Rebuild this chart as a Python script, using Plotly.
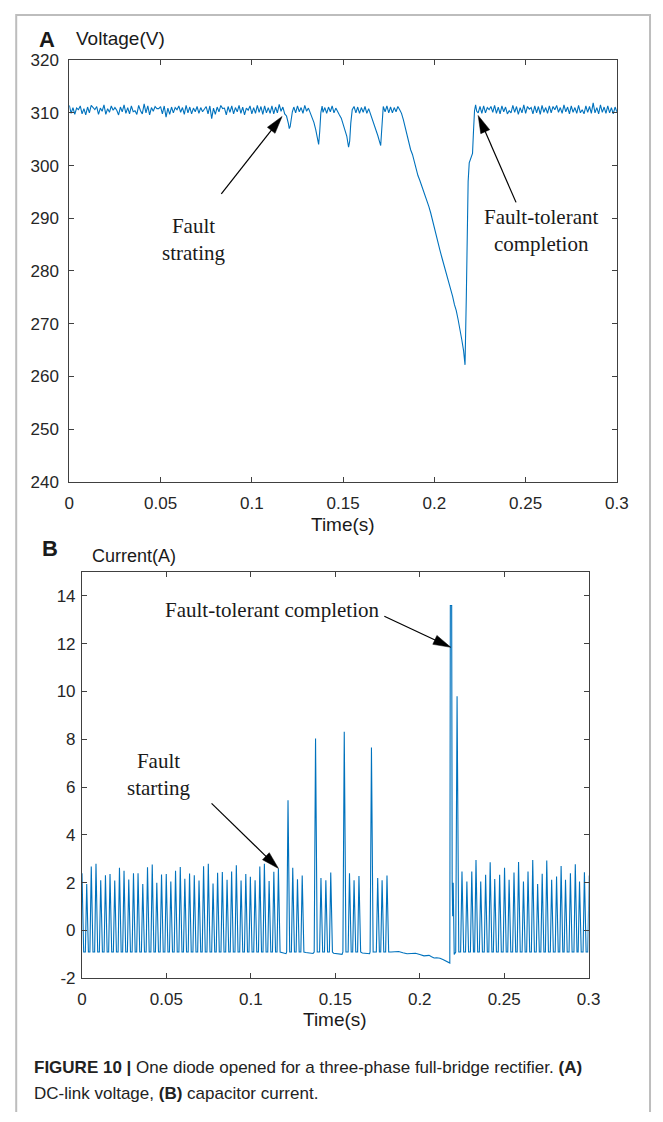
import numpy as np
import plotly.graph_objects as go

W, H = 663, 1122

# ---------------- Panel A : DC-link voltage (V) ----------------
# steady part before the fault, sampled every 1 ms from t = 0.000 s
v_pre = [311.4, 309.9, 311.0, 309.7, 310.9, 310.6, 311.3, 309.8, 310.8, 309.6,
         311.1, 310.0, 311.4, 311.0, 310.6, 311.2, 309.7, 310.9, 310.3, 311.5,
         309.7, 310.8, 310.1, 311.3, 310.5, 311.0, 310.5, 309.6, 311.1, 310.2,
         311.5, 309.9, 311.0, 309.8, 311.3, 310.2, 310.4, 309.7, 311.4, 310.4,
         309.8, 311.7, 310.0, 311.3, 309.6, 311.0, 310.3, 311.2, 310.8, 310.8,
         311.2, 309.8, 311.3, 309.2, 310.9, 309.7, 311.1, 310.0, 311.0, 310.6,
         311.3, 310.1, 311.0, 309.7, 311.4, 310.0, 311.1, 309.8, 310.9, 310.2,
         311.2, 309.9, 311.0, 310.2, 310.7, 311.2, 309.8, 311.3, 308.9, 310.9,
         309.7, 311.1, 310.2, 311.4, 310.8, 310.9, 309.6, 311.2, 310.1, 311.3,
         309.8, 311.0, 310.2, 311.4, 309.9, 311.1, 309.6, 310.9, 310.5, 311.3,
         309.8, 311.0, 309.9, 311.4, 310.1, 311.2, 309.7, 311.3, 310.0, 311.0,
         309.9, 311.3, 309.8, 311.1, 310.0, 311.6, 310.3]
v_pre_start = 0.000

# fault / fault-tolerant transient
v_fault_t = [0.117, 0.118, 0.119, 0.1200, 0.1205, 0.1210, 0.1215, 0.1222, 0.1230, 0.124,
             0.125, 0.126, 0.127, 0.128, 0.129, 0.130, 0.131, 0.132, 0.133, 0.134,
             0.135, 0.1360, 0.1366, 0.1372, 0.1378, 0.1385, 0.139, 0.140, 0.141, 0.142,
             0.143, 0.144, 0.145, 0.146, 0.147, 0.148, 0.149, 0.150, 0.151, 0.152,
             0.1530, 0.1536, 0.1542, 0.1550, 0.156, 0.157, 0.158, 0.159, 0.160, 0.161,
             0.162, 0.163, 0.164, 0.165, 0.166, 0.167, 0.168, 0.169, 0.1700, 0.1706,
             0.1711, 0.1717, 0.172, 0.173, 0.174, 0.175, 0.176, 0.177, 0.178, 0.179,
             0.180, 0.181, 0.182, 0.183, 0.184, 0.185, 0.186, 0.187, 0.188, 0.189,
             0.190, 0.191, 0.192, 0.193, 0.194, 0.195, 0.196, 0.197, 0.198, 0.199,
             0.200, 0.201, 0.202, 0.203, 0.204, 0.205, 0.206, 0.207, 0.208, 0.209,
             0.210, 0.211, 0.212, 0.213, 0.214, 0.215, 0.216, 0.2168, 0.2175, 0.2180,
             0.2185, 0.2191, 0.2200, 0.2209, 0.2215, 0.2220, 0.2226, 0.2232]
v_fault_v = [311.1, 309.8, 309.4, 308.0, 307.0, 307.4, 308.8, 310.2, 311.1, 310.0,
             311.3, 310.2, 311.0, 309.9, 311.4, 310.3, 310.9, 310.0, 309.3, 308.2,
             306.8, 305.0, 304.0, 306.5, 310.0, 311.3, 310.1, 311.0, 309.9, 311.1,
             310.2, 311.3, 310.0, 310.9, 310.1, 309.6, 309.0, 308.0, 306.9, 305.6,
             303.5, 304.6, 308.0, 310.6, 311.2, 310.0, 311.1, 309.9, 311.0, 310.1,
             311.2, 309.9, 310.8, 309.8, 309.0, 308.0, 306.8, 305.7, 304.5, 303.8,
             306.5, 310.2, 311.2, 310.2, 311.3, 310.0, 311.1, 310.0, 311.0, 310.2,
             311.2, 310.6, 309.9, 308.7, 307.2, 305.5, 304.4, 303.0, 302.1, 300.6,
             299.4, 298.1, 297.2, 296.2, 295.4, 294.3, 293.6, 292.2, 291.0, 289.5,
             288.1, 286.5, 285.5, 284.0, 282.7, 281.5, 280.2, 278.9, 277.7, 276.4,
             275.2, 273.6, 272.5, 270.8, 269.1, 267.0, 264.9, 262.2, 275.0, 290.0,
             297.0, 300.5, 301.6, 302.3, 307.0, 310.4, 311.5, 310.3]

# steady part after recovery, sampled every 1 ms from t = 0.224 s
v_post = [310.0, 311.2, 309.9, 311.3, 310.0, 311.0, 310.6, 311.2, 310.1, 311.4,
          309.9, 311.1, 309.8, 311.3, 310.2, 311.1, 309.8, 310.4, 310.0, 311.4,
          310.1, 311.2, 309.7, 311.0, 310.0, 311.5, 309.9, 311.2, 310.7, 311.0,
          309.8, 311.3, 310.0, 311.2, 309.7, 311.4, 310.1, 311.0, 309.9, 311.3,
          310.0, 311.2, 310.6, 311.4, 310.1, 311.0, 309.9, 311.5, 310.2, 311.1,
          309.8, 311.3, 310.1, 311.0, 309.9, 311.4, 310.0, 310.6, 309.8, 311.3,
          310.1, 311.2, 309.9, 311.9, 310.0, 311.0, 309.8, 311.5, 310.1, 311.1,
          309.9, 311.3, 310.0, 311.0, 309.8, 311.1, 310.2]
v_post_start = 0.224
v_step = 0.001

# ---------------- Panel B : capacitor current (A) ----------------
pulse_t = [0.0000, 0.0028, 0.0055, 0.0083, 0.0111, 0.0139, 0.0166, 0.0194, 0.0222, 0.0249,
           0.0277, 0.0305, 0.0332, 0.0360, 0.0388, 0.0416, 0.0443, 0.0471, 0.0499, 0.0526,
           0.0554, 0.0582, 0.0609, 0.0637, 0.0665, 0.0693, 0.0720, 0.0748, 0.0776, 0.0803,
           0.0831, 0.0859, 0.0886, 0.0914, 0.0942, 0.0970, 0.0997, 0.1025, 0.1053, 0.1080,
           0.1108, 0.1136, 0.1163,
           0.1220, 0.1248, 0.1276, 0.1304,
           0.1383, 0.1415, 0.1444, 0.1473,
           0.1553, 0.1584, 0.1611, 0.1640,
           0.1714, 0.1751, 0.1777, 0.1806,
           0.2221,
           0.2250, 0.2279, 0.2308, 0.2333, 0.2361, 0.2390, 0.2417, 0.2444, 0.2473, 0.2502,
           0.2529, 0.2558, 0.2585, 0.2614, 0.2641, 0.2669, 0.2698, 0.2725, 0.2752, 0.2781,
           0.2810, 0.2837, 0.2863, 0.2892, 0.2921, 0.2946, 0.2975, 0.3003]
pulse_v = [2.40, 1.94, 2.68, 2.79, 2.10, 2.31, 2.36, 2.09, 2.62, 2.50,
           2.13, 2.40, 2.40, 1.95, 2.65, 2.76, 2.00, 2.34, 2.36, 2.05,
           2.50, 2.66, 2.17, 2.38, 2.31, 2.09, 2.69, 2.79, 1.97, 2.42,
           2.45, 2.12, 2.47, 2.73, 2.09, 2.36, 2.25, 2.10, 2.68, 2.79,
           2.07, 2.46, 2.58,
           5.45, 2.62, 2.14, 2.30,
           8.03, 2.20, 2.10, 2.43,
           8.32, 2.40, 2.10, 2.28,
           7.66, 2.20, 2.10, 2.30,
           9.80,
           2.47, 2.05, 2.47, 2.95, 2.05, 2.33, 2.86, 2.15, 2.33, 2.63,
           2.12, 2.43, 2.87, 2.05, 2.47, 2.95, 1.95, 2.37, 2.93, 2.12,
           2.26, 2.70, 2.12, 2.40, 2.77, 2.05, 2.44, 2.30]
pulse_base = -0.90

# flat / sagging stretches where pulses are missing, and the 13.6 A spike
gap_t = [0.1185, 0.1198, 0.1208,
         0.1325, 0.1345, 0.1368,
         0.1490, 0.1515, 0.1540,
         0.1660, 0.1685, 0.1703,
         0.1830, 0.1875, 0.1900, 0.1925, 0.1950, 0.1975, 0.2000, 0.2025, 0.2040,
         0.2055, 0.2070, 0.2085, 0.2100, 0.2120, 0.2140, 0.2155, 0.2165, 0.2178,
         0.2181, 0.2189, 0.2192, 0.2195, 0.2198, 0.2204]
gap_v = [-0.92, -0.95, -0.97,
         -0.92, -0.95, -0.96,
         -0.95, -0.98, -1.00,
         -0.94, -0.96, -0.97,
         -0.90, -0.88, -0.93, -0.97, -0.96, -0.95, -1.00, -1.06, -1.05,
         -1.04, -1.10, -1.15, -1.14, -1.16, -1.22, -1.27, -1.30, -1.36,
         13.60, 13.60, 2.00, 0.60, 2.00, -1.00]

x_ticks = [0, 0.05, 0.1, 0.15, 0.2, 0.25, 0.3]
x_ticktext = ["0", "0.05", "0.1", "0.15", "0.2", "0.25", "0.3"]
va_ticks = [240, 250, 260, 270, 280, 290, 300, 310, 320]
ib_ticks = [-2, 0, 2, 4, 6, 8, 10, 12, 14]
ib_ticktext = ["-2", "0", "2", "4", "6", "8", "10", "12", "14"]

# ---------------- build traces ----------------
t_pre = v_pre_start + np.arange(len(v_pre)) * v_step
t_post = v_post_start + np.arange(len(v_post)) * v_step
v_t = np.concatenate([t_pre, np.array(v_fault_t), t_post])
v_v = np.concatenate([np.array(v_pre), np.array(v_fault_v), np.array(v_post)])

RISE, FALL = 0.0008, 0.0010
pts = []
for t, v in zip(pulse_t, pulse_v):
    pts += [(t - RISE, pulse_base), (t, v), (t + FALL, pulse_base)]
pts += list(zip(gap_t, gap_v))
pts.sort(key=lambda p: p[0])
i_t = [p[0] for p in pts]
i_v = [p[1] for p in pts]

BLUE = "#0072BD"
fig = go.Figure()
fig.add_trace(go.Scatter(x=v_t, y=v_v, mode="lines", line=dict(color=BLUE, width=1.1),
                         xaxis="x", yaxis="y", showlegend=False, hoverinfo="skip"))
fig.add_trace(go.Scatter(x=i_t, y=i_v, mode="lines", line=dict(color=BLUE, width=1.1),
                         xaxis="x2", yaxis="y2", showlegend=False, hoverinfo="skip"))

AX = "#404040"
TICKF = dict(family="Liberation Sans, Arial, sans-serif", size=17, color="#262626")


def px(x):
    return x / W


def py(y):
    return 1 - y / H


common = dict(showline=True, linecolor=AX, linewidth=1, mirror="ticks", ticks="inside",
              ticklen=5, tickcolor=AX, tickwidth=1, showgrid=False, zeroline=False,
              tickfont=TICKF)

fig.update_layout(
    width=W, height=H, margin=dict(l=0, r=0, t=0, b=0),
    paper_bgcolor="white", plot_bgcolor="white",
    xaxis=dict(domain=[px(66), px(628)], range=[0, 0.3], anchor="y", tickvals=x_ticks,
               ticktext=x_ticktext, ticklabelstandoff=6, **common),
    yaxis=dict(domain=[py(481), py(52)], range=[240, 320], anchor="x", tickvals=va_ticks,
               ticklabelstandoff=6, **common),
    xaxis2=dict(domain=[px(79), px(599)], range=[0, 0.3], anchor="y2", tickvals=x_ticks,
                ticktext=x_ticktext, ticklabelstandoff=5, **common),
    yaxis2=dict(domain=[py(986), py(572.7)], range=[-2, 15], anchor="x2", tickvals=ib_ticks,
                ticktext=ib_ticktext, ticklabelstandoff=2, **common),
)

SANS = "Liberation Sans, Arial, sans-serif"
SERIF = "Liberation Serif, Times New Roman, serif"
TXT = "#1a1a1a"


def label(text, x, y, size, family=SANS, xanchor="center", align="center", color=TXT):
    fig.add_annotation(text=text, x=px(x), y=py(y), xref="paper", yref="paper",
                       showarrow=False, xanchor=xanchor, yanchor="middle", align=align,
                       font=dict(family=family, size=size, color=color))


# panel labels and axis titles
label("<b>A</b>", 33, 31, 22, xanchor="left")
label("Voltage(V)", 71, 30, 19, xanchor="left")
label("Time(s)", 347, 524, 19)
label("<b>B</b>", 36, 549, 22, xanchor="left")
label("Current(A)", 87, 556, 18, xanchor="left")
label("Time(s)", 339, 1028, 19)

# serif annotations
label("Fault<br>strating", 193, 234, 21, family=SERIF)
label("Fault-tolerant<br>completion", 550, 225, 21, family=SERIF)
label("Fault-tolerant completion", 275, 611, 21, family=SERIF)
label("Fault<br>starting", 158, 779, 21, family=SERIF)

# caption
label("<b>FIGURE 10 |</b> One diode opened for a three-phase full-bridge rectifier. <b>(A)</b>",
      28, 1077, 17, xanchor="left", align="left", color="#222222")
label("DC-link voltage, <b>(B)</b> capacitor current.",
      28, 1103, 17, xanchor="left", align="left", color="#222222")

# arrows (tail -> tip, pixels)
arrows = [((222, 188), (284.4, 109.3)),
          ((524.5, 196.7), (485.6, 108.3)),
          ((389.3, 617.7), (457.5, 649.3)),
          ((212, 808), (280.7, 874.3))]
L, WD = 18, 10
for (tx, ty), (hx, hy) in arrows:
    dx, dy = hx - tx, hy - ty
    d = (dx * dx + dy * dy) ** 0.5
    ux, uy = dx / d, dy / d
    bx, by = hx - ux * L, hy - uy * L
    nx, ny = -uy, ux
    p1 = (bx + nx * WD / 2, by + ny * WD / 2)
    p2 = (bx - nx * WD / 2, by - ny * WD / 2)
    fig.add_shape(type="line", xref="paper", yref="paper", x0=px(tx), y0=py(ty),
                  x1=px(bx + ux * 2), y1=py(by + uy * 2), line=dict(color="black", width=1.2))
    path = "M{:.5f},{:.5f} L{:.5f},{:.5f} L{:.5f},{:.5f} Z".format(
        px(hx), py(hy), px(p1[0]), py(p1[1]), px(p2[0]), py(p2[1]))
    fig.add_shape(type="path", xref="paper", yref="paper", path=path,
                  fillcolor="black", line=dict(color="black", width=0.5))

# outer figure frame
fig.add_shape(type="path", xref="paper", yref="paper",
              path="M{:.5f},{:.5f} L{:.5f},{:.5f} L{:.5f},{:.5f} L{:.5f},{:.5f}".format(
                  px(11.5), py(1122), px(11.5), py(6), px(662), py(6), px(662), py(1122)),
              line=dict(color="#bdbdbd", width=2))

fig.write_html("out.html")
